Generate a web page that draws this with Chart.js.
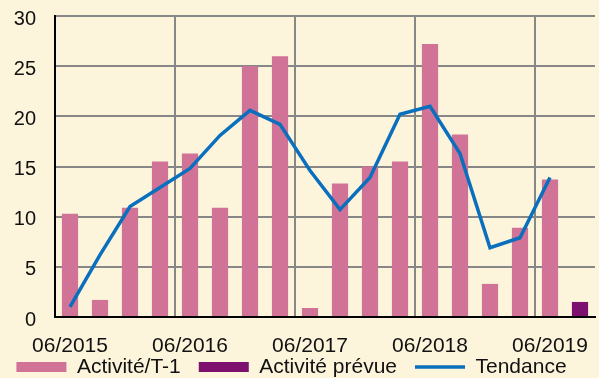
<!DOCTYPE html>
<html>
<head>
<meta charset="utf-8">
<script src="https://cdn.jsdelivr.net/npm/chart.js@4/dist/chart.umd.min.js"></script>
<style>
    html, body { margin: 0; padding: 0; background: #fdf4dc; overflow: hidden; }
    #wrap { width: 599px; height: 411px; }
</style>
</head>
<body>
<div id="wrap"><canvas id="activityChart" width="599" height="411"></canvas></div>
<script>
// trimestres (fin de trimestre)
const trimestres = ['06/2015', '09/2015', '12/2015', '03/2016', '06/2016', '09/2016', '12/2016', '03/2017',
    '06/2017', '09/2017', '12/2017', '03/2018', '06/2018', '09/2018', '12/2018', '03/2019', '06/2019', '09/2019'];

// séries
const activiteT1 = [10.3, 1.7, 10.9, 15.5, 16.3, 10.9, 25.0, 26.0, 0.9, 13.3, 15.0, 15.5, 27.2, 18.2, 3.3, 8.9, 13.7, null];
const activitePrevue = [null, null, null, null, null, null, null, null, null, null, null, null, null, null, null, null, null, 1.5];
const tendance = [1.0, 6.2, 11.0, 12.9, 14.8, 18.1, 20.6, 19.2, 14.6, 10.7, 13.9, 20.2, 21.0, 16.3, 6.9, 7.9, 13.9, null];

// graduations de l'axe vertical
const yMin = 0;
const yMax = 30;
const yStep = 5;

const police = "'Liberation Sans', Arial, sans-serif";
const gris = '#878787';

// remonte la légende sous les dates de l'axe horizontal
const decalageLegende = {
    id: 'decalageLegende',
    afterLayout(chart) {
        const lg = chart.legend;
        if (!lg) return;
        lg.top -= 23.5;
        lg.bottom -= 23.5;
        lg.left -= 6;
        lg.right -= 6;
    }
};

new Chart(document.getElementById('activityChart'), {
    type: 'bar',
    data: {
        labels: trimestres,
        datasets: [{
            label: 'Activité/T-1',
            data: activiteT1,
            backgroundColor: '#d07397',
            grouped: false,
            barPercentage: 0.54,
            categoryPercentage: 1,
            pointStyle: 'rect',
            order: 1
        }, {
            label: 'Activité prévue',
            data: activitePrevue,
            backgroundColor: '#7d106f',
            grouped: false,
            barPercentage: 0.54,
            categoryPercentage: 1,
            pointStyle: 'rect',
            order: 1
        }, {
            type: 'line',
            label: 'Tendance',
            data: tendance,
            borderColor: '#0a6fbd',
            backgroundColor: '#0a6fbd',
            borderWidth: 3.5,
            pointRadius: 0,
            pointStyle: 'line',
            tension: 0,
            order: 0
        }]
    },
    options: {
        responsive: false,
        animation: false,
        layout: { padding: { top: 0, right: 4, left: 0, bottom: 0 } },
        plugins: {
            tooltip: { enabled: false },
            legend: {
                position: 'bottom',
                labels: {
                    usePointStyle: true,
                    pointStyleWidth: 50,
                    boxWidth: 50,
                    boxHeight: 10,
                    padding: 18,
                    color: '#111',
                    font: { family: police, size: 21 },
                    sort: (a, b) => a.datasetIndex - b.datasetIndex
                }
            }
        },
        scales: {
            x: {
                offset: true,
                afterFit: (scale) => { scale.height = 45; },
                grid: {
                    offset: true,
                    drawTicks: false,
                    lineWidth: 2,
                    color: (ctx) => (ctx.index > 0 && ctx.index % 4 === 0) ? gris : 'rgba(0,0,0,0)'
                },
                border: { color: '#000', width: 2 },
                ticks: {
                    autoSkip: false,
                    maxRotation: 0,
                    padding: 17,
                    color: '#111',
                    font: { family: police, size: 21 },
                    callback: function (val, idx) {
                        return idx % 4 === 0 ? this.getLabelForValue(val) : '';
                    }
                }
            },
            y: {
                min: yMin,
                max: yMax,
                afterFit: (scale) => { scale.width = 55; },
                grid: { drawTicks: true, tickLength: 15, tickColor: 'rgba(0,0,0,0)', lineWidth: 2, color: gris },
                border: { color: '#000', width: 2 },
                ticks: {
                    stepSize: yStep,
                    padding: 4,
                    labelOffset: 3,
                    color: '#111',
                    font: { family: police, size: 20 }
                }
            }
        }
    },
    plugins: [decalageLegende]
});
</script>
</body>
</html>
